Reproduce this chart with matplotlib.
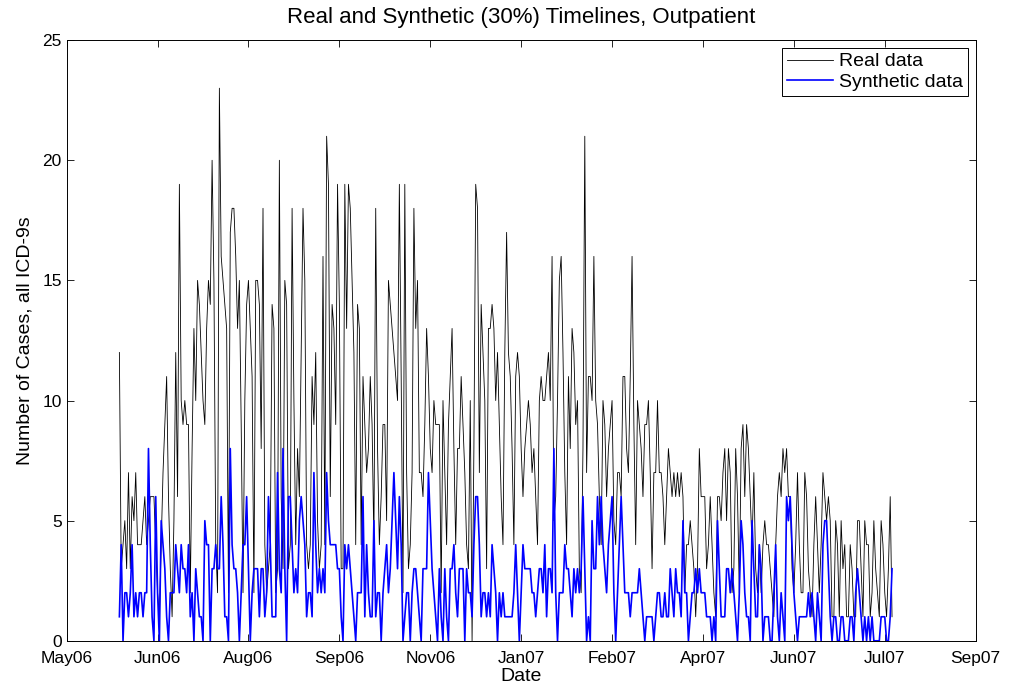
import numpy as np
import matplotlib
matplotlib.use("Agg")
import matplotlib.pyplot as plt
import matplotlib.dates as mdates

plt.rcParams['font.family'] = ['Liberation Sans', 'DejaVu Sans']

# daily counts (first day 2006-06-01)
start_date = np.datetime64('2006-06-01')
real_counts = [
    12, 3, 4, 5, 3, 7, 3, 6, 5, 7, 4, 4, 4, 5, 6, 4, 5, 6, 6, 6, 4, 2, 1, 4, 7, 9, 11, 6, 3, 1, 5, 12, 6, 19, 10, 9, 10, 9,
    9, 2, 8, 13, 10, 15, 14, 12, 10, 9, 13, 15, 14, 20, 15, 4, 2, 23, 16, 15, 14, 13, 2, 17, 18, 18, 16, 13, 15, 9, 2, 10, 14, 15, 13, 11, 2, 15,
    15, 14, 8, 18, 4, 2, 3, 4, 14, 13, 2, 3, 20, 6, 3, 15, 14, 3, 4, 18, 10, 4, 8, 6, 12, 18, 15, 4, 3, 4, 11, 9, 12, 5, 3, 4, 16, 4, 21,
    19, 6, 14, 13, 9, 19, 14, 3, 3, 19, 13, 19, 18, 15, 12, 4, 14, 13, 4, 11, 9, 7, 8, 11, 9, 4, 18, 8, 4, 6, 9, 9, 5, 15, 14, 13, 12, 11, 10,
    19, 11, 2, 19, 7, 3, 4, 7, 18, 13, 15, 7, 7, 6, 9, 13, 11, 8, 7, 10, 9, 9, 9, 2, 10, 7, 4, 9, 11, 13, 8, 4, 8, 8, 11, 9, 7, 4, 3,
    10, 0, 8, 19, 18, 7, 14, 12, 10, 3, 13, 13, 14, 13, 10, 12, 9, 6, 4, 12, 17, 12, 11, 8, 4, 11, 12, 11, 8, 6, 8, 9, 10, 9, 7, 8, 6, 4, 10,
    11, 10, 10, 11, 12, 10, 16, 5, 6, 10, 15, 16, 12, 7, 4, 11, 8, 13, 12, 9, 10, 3, 2, 8, 21, 7, 11, 11, 10, 16, 10, 9, 6, 4, 10, 9, 6, 8, 9,
    10, 5, 4, 7, 7, 6, 11, 11, 8, 7, 11, 16, 9, 4, 10, 9, 8, 6, 9, 9, 10, 7, 3, 7, 7, 10, 7, 7, 6, 4, 6, 8, 7, 6, 7, 6, 7, 6, 7,
    6, 2, 4, 4, 5, 4, 3, 1, 3, 8, 6, 6, 6, 3, 4, 6, 4, 2, 1, 6, 6, 5, 7, 8, 5, 8, 7, 2, 3, 8, 6, 2, 8, 9, 6, 9, 8, 6, 4,
    7, 3, 2, 4, 2, 4, 5, 4, 4, 3, 2, 1, 4, 6, 7, 6, 8, 7, 8, 6, 6, 3, 2, 4, 7, 4, 2, 2, 7, 6, 3, 2, 1, 4, 6, 4, 2, 4, 7,
    6, 5, 6, 5, 1, 1, 5, 4, 1, 5, 3, 4, 1, 1, 4, 3, 1, 1, 5, 5, 3, 1, 5, 4, 4, 1, 2, 5, 3, 2, 1, 5, 4, 2, 1, 3, 6, 1,
]
synthetic_counts = [
    1, 4, 0, 2, 2, 1, 2, 4, 1, 2, 1, 2, 2, 1, 2, 2, 8, 4, 1, 0, 6, 2, 0, 5, 4, 3, 1, 0, 2, 2, 2, 4, 3, 2, 4, 3, 3, 2,
    4, 1, 2, 0, 3, 2, 1, 1, 0, 5, 4, 4, 0, 3, 3, 4, 3, 3, 6, 4, 1, 1, 0, 8, 4, 3, 3, 2, 0, 2, 4, 4, 6, 3, 0, 2, 3, 3,
    3, 1, 3, 3, 1, 2, 6, 4, 1, 1, 1, 7, 3, 2, 8, 3, 0, 6, 6, 4, 2, 3, 2, 5, 6, 5, 4, 1, 2, 2, 1, 7, 4, 2, 3, 2, 3, 2, 7,
    5, 4, 4, 4, 4, 3, 3, 1, 0, 4, 3, 4, 3, 2, 1, 0, 2, 2, 2, 6, 1, 4, 2, 1, 1, 5, 1, 2, 2, 0, 2, 3, 4, 2, 3, 5, 7, 5, 3,
    6, 4, 0, 1, 2, 2, 0, 2, 3, 3, 2, 1, 0, 3, 3, 3, 7, 5, 3, 2, 1, 0, 3, 1, 0, 3, 1, 0, 3, 3, 4, 2, 1, 3, 3, 3, 0, 3, 2,
    2, 1, 4, 6, 6, 4, 1, 2, 2, 1, 2, 1, 4, 3, 2, 0, 2, 1, 2, 1, 1, 1, 1, 1, 2, 4, 2, 0, 2, 4, 3, 3, 3, 3, 2, 2, 1, 2, 3,
    3, 2, 4, 1, 3, 3, 2, 8, 2, 0, 2, 2, 2, 4, 3, 3, 2, 1, 3, 2, 3, 2, 3, 6, 3, 0, 1, 0, 5, 3, 3, 6, 4, 6, 4, 3, 2, 4, 5,
    6, 2, 0, 2, 4, 6, 4, 2, 2, 2, 1, 2, 2, 2, 2, 3, 2, 1, 0, 1, 1, 1, 1, 0, 1, 2, 2, 1, 1, 2, 1, 1, 3, 2, 1, 3, 2, 2, 1,
    5, 2, 2, 0, 1, 2, 2, 3, 2, 3, 2, 2, 2, 1, 1, 1, 0, 1, 0, 5, 3, 1, 1, 1, 3, 3, 2, 3, 2, 1, 0, 2, 5, 4, 2, 1, 1, 0, 5,
    3, 1, 1, 4, 3, 0, 1, 1, 1, 0, 0, 2, 4, 1, 0, 2, 1, 0, 6, 5, 6, 4, 2, 1, 0, 1, 1, 1, 1, 1, 2, 1, 2, 1, 0, 2, 1, 0, 4,
    5, 5, 3, 1, 0, 1, 1, 0, 0, 1, 1, 0, 0, 0, 1, 1, 0, 2, 3, 2, 1, 0, 1, 0, 1, 0, 1, 0, 0, 0, 0, 1, 1, 1, 0, 0, 1, 3,
]

dates = start_date + np.arange(len(real_counts))

# MATLAB-style date ticks every 50 days
tick0 = np.datetime64('2006-05-03')
tick_dates = tick0 + np.arange(0, 501, 50)

fig = plt.figure(figsize=(10.1, 6.92), dpi=100)
ax = fig.add_axes([0.066, 0.074, 0.900, 0.868])

ax.plot(dates, real_counts, color='black', linewidth=0.6, label='Real data')
ax.plot(dates, synthetic_counts, color='#0000ff', linewidth=1.2, label='Synthetic data')

ax.set_xlim(tick_dates[0], tick_dates[-1])
ax.set_ylim(0, 25)
ax.set_yticks([0, 5, 10, 15, 20, 25])
ax.set_xticks(tick_dates)
ax.xaxis.set_major_formatter(mdates.DateFormatter('%b%y'))

ax.tick_params(direction='in', top=True, right=True, labelsize=12.5, length=5, width=0.6)
ax.tick_params(axis='x', pad=7)
for s in ax.spines.values():
    s.set_linewidth(0.7)

ax.set_title('Real and Synthetic (30%) Timelines, Outpatient', fontsize=16, pad=12)
ax.set_xlabel('Date', fontsize=14, labelpad=2)
ax.set_ylabel('Number of Cases, all ICD-9s', fontsize=14, labelpad=6)

leg = ax.legend(loc='upper right', fontsize=14, fancybox=False, framealpha=1,
                edgecolor='black', handlelength=2.4, handletextpad=0.3,
                labelspacing=0.15, borderpad=0.25, borderaxespad=0.4)
leg.get_frame().set_linewidth(0.7)

fig.savefig('out.png', dpi=100)
